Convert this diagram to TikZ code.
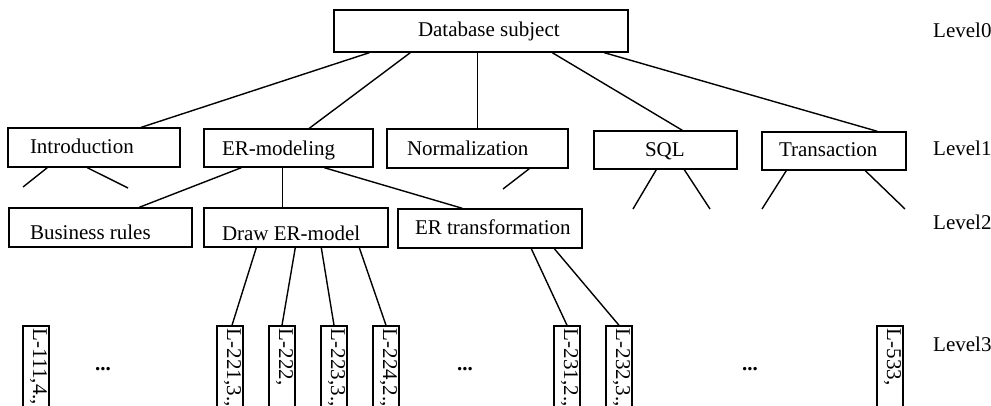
\documentclass[tikz,border=0pt]{standalone}
\usepackage{fontspec}
\setmainfont{Liberation Serif}
\usepackage{graphicx}
\tikzset{
  box/.style={draw, line width=1.4pt, inner sep=0pt, font=\fontsize{21}{25}\selectfont},
  leaf/.style={draw, line width=1.4pt, inner sep=0pt, font=\fontsize{21}{25}\selectfont},
  lvl/.style={anchor=base west, inner sep=0pt, font=\fontsize{21}{25}\selectfont},
  dotsn/.style={inner sep=0pt, font=\fontsize{21}{25}\selectfont\bfseries},
  conn/.style={line width=1.4pt}
}
\newcommand\mkbox[8]{%
  \pgfmathsetmacro\mkW{#4-#2}\pgfmathsetmacro\mkH{#5-#3}%
  \pgfmathsetmacro\mkX{(#2+#4)/2}\pgfmathsetmacro\mkY{(#3+#5)/2}%
  \pgfmathsetmacro\mkP{#6-#2}\pgfmathsetmacro\mkT{#7-#3}\pgfmathsetmacro\mkD{#5-#7}%
  \node[box] (#1) at (\mkX,\mkY) {\makebox[\mkW pt][l]{\hspace*{\mkP pt}\raisebox{0pt}[\mkT pt][\mkD pt]{#8}}};}
\newcommand\mkleaf[3]{%
  \node[leaf] (#1) at (#2+13,371) {\rotatebox{-90}{\makebox[90pt][l]{\hspace*{3pt}\raisebox{0pt}[16pt][10pt]{#3}}}};}
\begin{document}
\begin{tikzpicture}[x=1pt,y=-1pt]
\useasboundingbox (0,0) rectangle (991,406);
\clip (0,0) rectangle (991,406);
% level 0
\mkbox{root}{334}{10}{628}{52}{418}{37}{Database subject}
% level 1
\mkbox{intro}{8}{128}{180}{167}{30}{154}{Introduction}
\mkbox{er}{204}{129}{373}{167}{222}{156}{ER-modeling}
\mkbox{norm}{387}{129}{568}{168}{407}{156}{Normalization}
\mkbox{sql}{594}{131}{737}{169}{645}{157}{SQL}
\mkbox{trans}{762}{132}{906}{170}{779}{157}{Transaction}
% level 2
\mkbox{br}{9}{208}{192}{247}{30}{240}{Business rules}
\mkbox{drw}{204}{208}{388}{247}{222}{241}{Draw ER-model}
\mkbox{ert}{398}{209}{582}{248}{415}{235}{ER transformation}
% level 3
\mkleaf{l111}{23}{L-111,4.,}
\mkleaf{l221}{217}{L-221,3.,}
\mkleaf{l222}{269}{L-222,}
\mkleaf{l223}{321}{L-223,3.,}
\mkleaf{l224}{373}{L-224,2.,}
\mkleaf{l231}{554}{L-231,2.,}
\mkleaf{l232}{606}{L-232,3.,}
\mkleaf{l533}{877}{L-533,}
% dots
\node[dotsn] (d1) at (103,369) {...};
\node[dotsn] (d2) at (465,369) {...};
\node[dotsn] (d3) at (750,369) {...};
% level labels
\node[lvl] (lv0) at (933,38) {Level0};
\node[lvl] (lv1) at (933,156) {Level1};
\node[lvl] (lv2) at (933,230) {Level2};
\node[lvl] (lv3) at (933,351) {Level3};
% free ends
\coordinate (fi1) at (23,187);
\coordinate (fi2) at (128,188);
\coordinate (fn1) at (503,189);
\coordinate (fs1) at (633,209);
\coordinate (fs2) at (710,209);
\coordinate (ft1) at (762,209);
\coordinate (ft2) at (905,209);
% connectors level0 -> level1
\draw[conn] ([xshift=36pt]root.south west) -- ([xshift=134pt]intro.north west);
\draw[conn] ([xshift=77pt]root.south west) -- ([xshift=106pt]er.north west);
\draw[conn] ([xshift=144pt]root.south west) -- ([xshift=91pt]norm.north west);
\draw[conn] ([xshift=219pt]root.south west) -- ([xshift=89pt]sql.north west);
\draw[conn] ([xshift=271pt]root.south west) -- ([xshift=116pt]trans.north west);
% dangling
\draw[conn] ([xshift=40pt]intro.south west) -- (fi1);
\draw[conn] ([xshift=80pt]intro.south west) -- (fi2);
\draw[conn] ([xshift=143pt]norm.south west) -- (fn1);
\draw[conn] ([xshift=63pt]sql.south west) -- (fs1);
\draw[conn] ([xshift=91pt]sql.south west) -- (fs2);
\draw[conn] ([xshift=25pt]trans.south west) -- (ft1);
\draw[conn] ([xshift=104pt]trans.south west) -- (ft2);
% level1 -> level2
\draw[conn] ([xshift=38pt]er.south west) -- ([xshift=131pt]br.north west);
\draw[conn] ([xshift=79pt]er.south west) -- ([xshift=79pt]drw.north west);
\draw[conn] ([xshift=121pt]er.south west) -- ([xshift=65pt]ert.north west);
% level2 -> level3
\draw[conn] ([xshift=53pt]drw.south west) -- ([xshift=2pt]l221.north);
\draw[conn] ([xshift=92pt]drw.south west) -- (l222.north);
\draw[conn] ([xshift=118pt]drw.south west) -- (l223.north);
\draw[conn] ([xshift=156pt]drw.south west) -- (l224.north);
\draw[conn] ([xshift=134pt]ert.south west) -- (l231.north);
\draw[conn] ([xshift=157pt]ert.south west) -- (l232.north);
\end{tikzpicture}
\end{document}
